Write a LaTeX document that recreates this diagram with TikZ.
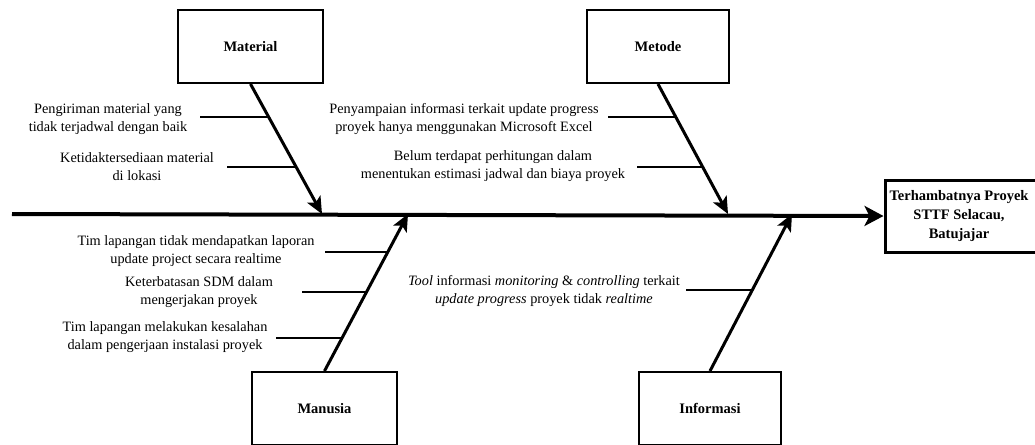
\documentclass[tikz,border=0pt]{standalone}
\usepackage{fontspec}
\setmainfont{Liberation Serif}
\usetikzlibrary{arrows.meta, calc, positioning}

\begin{document}
\begin{tikzpicture}[x=1pt, y=-1pt,
    catbox/.style={draw, line width=2pt, minimum width=145pt, minimum height=73pt, inner sep=0pt,
        font=\bfseries\fontsize{14.5}{18}\selectfont},
    cause/.style={align=center, inner sep=0pt, font=\fontsize{14.3}{18}\selectfont},
    bone/.style={line width=3pt, -{Stealth[length=17pt, width=15pt, inset=4pt]}},
    branch/.style={line width=2pt}]
    \useasboundingbox (0,0) rectangle (1035,444);

    \node[catbox] (material) at (250.5,46.5) {Material};
    \node[catbox, minimum width=142pt] (metode) at (658,46.5) {Metode};
    \node[catbox] (manusia) at (324.5,408.5) {Manusia};
    \node[catbox, minimum width=142pt] (informasi) at (710,408.5) {Informasi};
    \node[draw, line width=3pt, minimum width=162pt, minimum height=72pt, inner sep=0pt] (akibat) at (966,216) {};
    \node[align=center, inner sep=0pt, font=\bfseries\fontsize{14.5}{19}\selectfont] (judul) at (959,216)
        {Terhambatnya Proyek\\STTF Selacau,\\Batujajar};

    \coordinate (ekor) at (12,214);
    \coordinate (tmaterial) at (322,214);
    \coordinate (tmetode) at (728,214);
    \coordinate (tmanusia) at (408,214);
    \coordinate (tinformasi) at (792,214);

    \draw[line width=4pt, -{Stealth[length=19pt, width=20pt, inset=5pt]}] (ekor) -- (akibat.west);
    \draw[bone] (material.south) -- (tmaterial);
    \draw[bone] (metode.south) -- (tmetode);
    \draw[bone] (manusia.north) -- (tmanusia);
    \draw[bone] (informasi.north) -- (tinformasi);

    % material
    \coordinate (mat1) at (intersection of material.south--tmaterial and 0,117--1,117);
    \coordinate (mat2) at (intersection of material.south--tmaterial and 0,167--1,167);
    \draw[branch] (mat1) -- ++(-69,0) coordinate (mat1s);
    \draw[branch] (mat2) -- ++(-69,0) coordinate (mat2s);
    \node[cause] (pengiriman) at (108,119) {Pengiriman material yang\\tidak terjadwal dengan baik};
    \node[cause] (ketersediaan) at (137,167) {Ketidaktersediaan material\\di lokasi};

    % metode
    \coordinate (met1) at (intersection of metode.south--tmetode and 0,117--1,117);
    \coordinate (met2) at (intersection of metode.south--tmetode and 0,167--1,167);
    \draw[branch] (met1) -- ++(-68,0) coordinate (met1s);
    \draw[branch] (met2) -- ++(-66,0) coordinate (met2s);
    \node[cause] (penyampaian) at (464,119) {Penyampaian informasi terkait update progress\\proyek hanya menggunakan Microsoft Excel};
    \node[cause] (perhitungan) at (493,166) {Belum terdapat perhitungan dalam\\menentukan estimasi jadwal dan biaya proyek};

    % manusia
    \coordinate (man1) at (intersection of manusia.north--tmanusia and 0,252--1,252);
    \coordinate (man2) at (intersection of manusia.north--tmanusia and 0,292--1,292);
    \coordinate (man3) at (intersection of manusia.north--tmanusia and 0,338--1,338);
    \draw[branch] (man1) -- ++(-63,0) coordinate (man1s);
    \draw[branch] (man2) -- ++(-65,0) coordinate (man2s);
    \draw[branch] (man3) -- ++(-66,0) coordinate (man3s);
    \node[cause] (laporan) at (196,251) {Tim lapangan tidak mendapatkan laporan\\update project secara realtime};
    \node[cause] (sdm) at (199,292) {Keterbatasan SDM dalam\\mengerjakan proyek};
    \node[cause] (kesalahan) at (165,337) {Tim lapangan melakukan kesalahan\\dalam pengerjaan instalasi proyek};

    % informasi
    \coordinate (inf1) at (intersection of informasi.north--tinformasi and 0,290--1,290);
    \draw[branch] (inf1) -- ++(-66,0) coordinate (inf1s);
    \node[cause] (tool) at (544,291) {\textit{Tool} informasi \textit{monitoring} \& \textit{controlling} terkait\\\textit{update progress} proyek tidak \textit{realtime}};
\end{tikzpicture}
\end{document}
